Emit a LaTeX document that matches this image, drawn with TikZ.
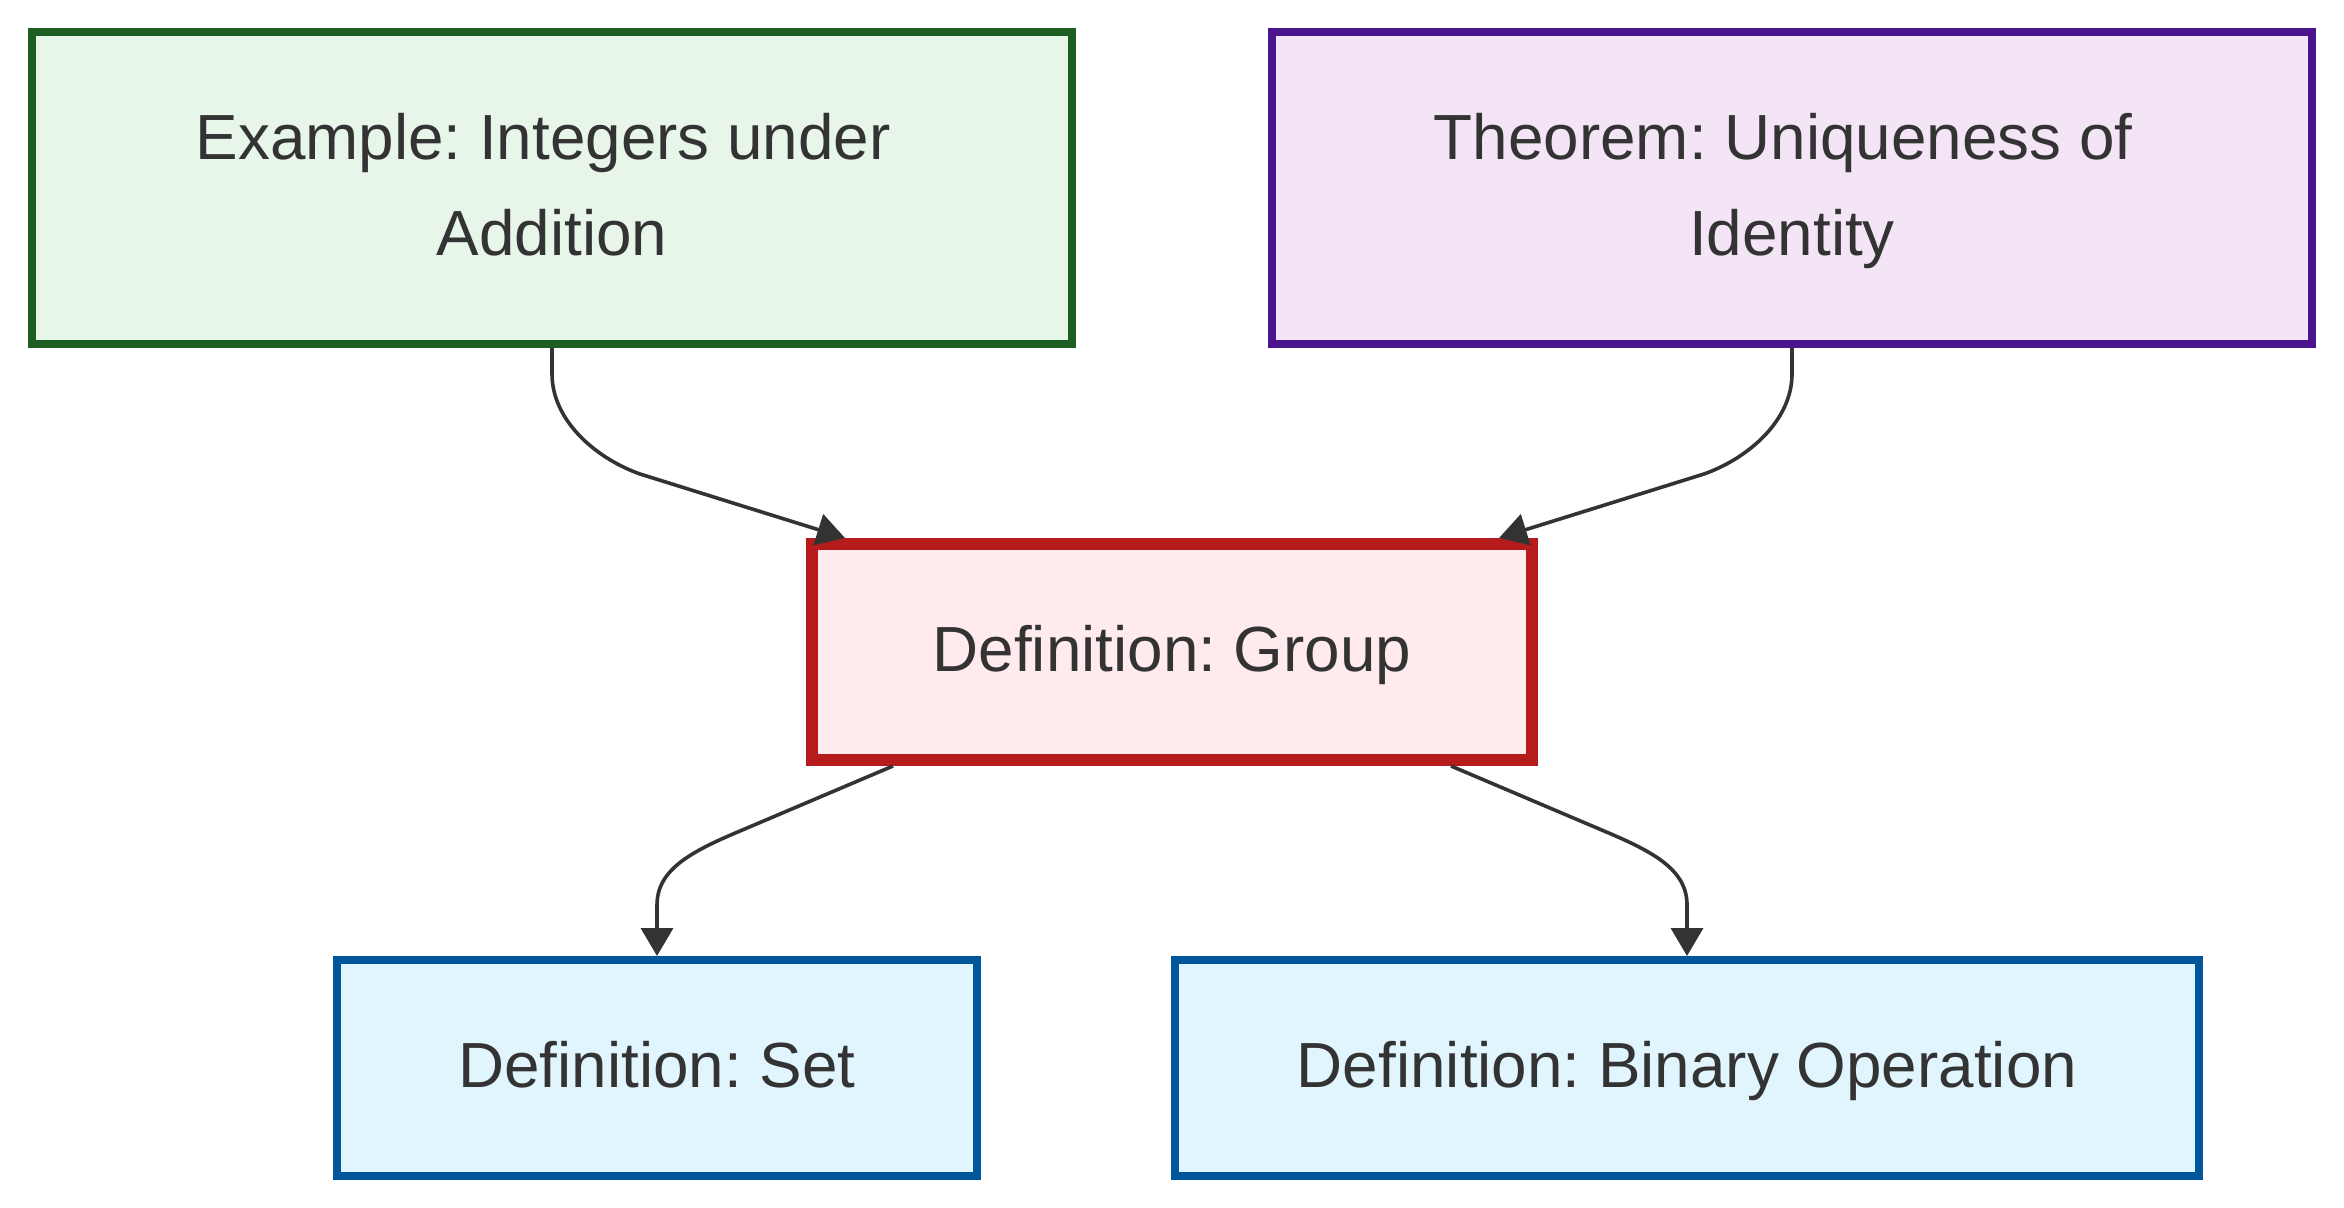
\documentclass[tikz,border=0pt]{standalone}
\usepackage{fontspec}
\setmainfont{Liberation Sans}
\usetikzlibrary{arrows.meta,calc}
\frenchspacing
\definecolor{txt}{HTML}{333333}
\definecolor{exfill}{HTML}{E8F5E9}\definecolor{exdraw}{HTML}{1B5E20}
\definecolor{thfill}{HTML}{F3E5F5}\definecolor{thdraw}{HTML}{4A148C}
\definecolor{grfill}{HTML}{FFEBEE}\definecolor{grdraw}{HTML}{B71C1C}
\definecolor{dffill}{HTML}{E1F5FE}\definecolor{dfdraw}{HTML}{01579B}
\newcommand{\trsp}{\rule{\fontdimen2\font}{0pt}}
\tikzset{
  box/.style={rectangle, inner sep=0pt, line width=4pt, outer sep=2pt, align=center,
    text=txt, font=\fontsize{31.9}{48}\selectfont\frenchspacing},
  exbox/.style={box, fill=exfill, draw=exdraw, minimum width=520pt, minimum height=156pt},
  thbox/.style={box, fill=thfill, draw=thdraw, minimum width=520pt, minimum height=156pt},
  grbox/.style={box, fill=grfill, draw=grdraw, line width=6pt, outer sep=3pt, minimum width=360pt, minimum height=108pt},
  dfbox/.style={box, fill=dffill, draw=dfdraw, minimum height=108pt},
  edge/.style={draw=txt, line width=1.8pt, -{Triangle[length=14pt,width=16pt]}}
}
\begin{document}
\begin{tikzpicture}[x=0.5pt,y=-0.5pt]
\useasboundingbox (0,0) rectangle (2344,1208);
\node[exbox] (ex) at (552,188) {\strut Example: Integers under\trsp\\\strut Addition};
\node[thbox] (th) at (1792,188) {\strut Theorem: Uniqueness of\trsp\\\strut Identity};
\node[grbox] (gr) at (1172,652) {\strut Definition: Group};
\node[dfbox, minimum width=320pt] (set) at (657,1068) {\strut Definition: Set};
\node[dfbox, minimum width=512pt] (bin) at (1687,1068) {\strut Definition: Binary Operation};

\draw[edge] (ex.south) -- (552,374) .. controls (552,420) and (595,458) .. (640,474) -- ($(gr.north west)+(39,0)$);
\draw[edge] (th.south) -- (1792,374) .. controls (1792,420) and (1749,458) .. (1704,474) -- ($(gr.north east)+(-39,0)$);
\draw[edge] ($(gr.south west)+(87,0)$) -- (740,831) .. controls (690,852) and (657,870) .. (657,905) -- (set.north);
\draw[edge] ($(gr.south east)+(-87,0)$) -- (1604,831) .. controls (1654,852) and (1687,870) .. (1687,905) -- (bin.north);
\end{tikzpicture}
\end{document}
